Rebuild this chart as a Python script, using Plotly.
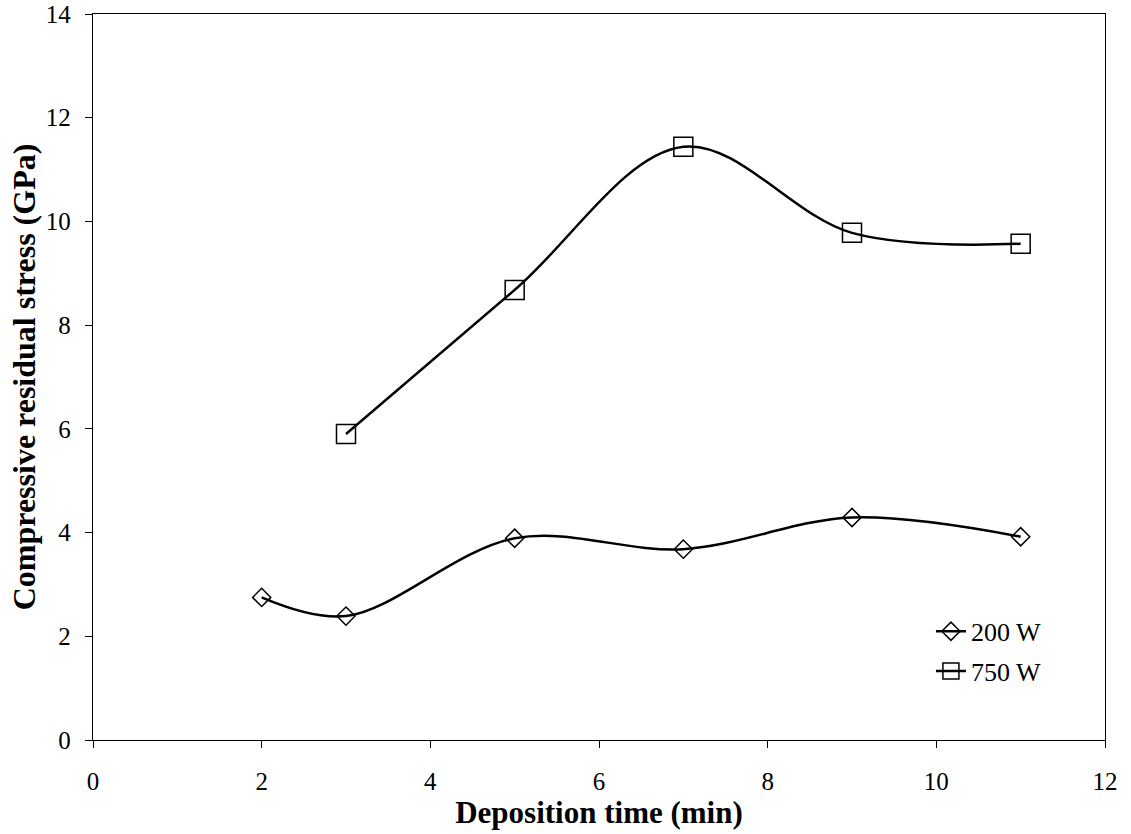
import plotly.graph_objects as go

time_min = [2, 3, 5, 7, 9, 11]
stress_200w = [2.75, 2.39, 3.89, 3.68, 4.29, 3.92]

time_750 = [3, 5, 7, 9, 11]
stress_750w = [5.90, 8.68, 11.44, 9.78, 9.57]

FONT = "Liberation Serif, Times New Roman, serif"

fig = go.Figure()
fig.add_trace(go.Scatter(
    x=time_min, y=stress_200w, name="200 W", mode="lines+markers", legendgroup="a",
    line=dict(color="black", width=2.5, shape="spline", smoothing=1),
    marker=dict(symbol="diamond-open", size=14, color="black", line=dict(width=1.5)),
))
fig.add_trace(go.Scatter(
    x=time_750, y=stress_750w, name="750 W", mode="lines+markers", legendgroup="b",
    line=dict(color="black", width=2.5, shape="spline", smoothing=1),
    marker=dict(symbol="square-open", size=19, color="black", line=dict(width=1.5)),
))

axis_common = dict(
    showline=True, linecolor="black", linewidth=1.3, mirror=True,
    ticks="outside", ticklen=7, tickcolor="black", tickwidth=1,
    showgrid=False, zeroline=False, automargin=False,
    tickfont=dict(family=FONT, size=25, color="black"),
)

fig.update_layout(
    width=1131, height=834,
    margin=dict(l=93, r=26, t=14, b=94),
    paper_bgcolor="white", plot_bgcolor="white",
    font=dict(family=FONT, color="black"),
    xaxis=dict(range=[0, 12], dtick=2, ticklabelstandoff=12,
               title=dict(text="<b>Deposition time (min)</b>", font=dict(family=FONT, size=31), standoff=1),
               **axis_common),
    yaxis=dict(range=[0, 14], dtick=2, ticklabelstandoff=9,
               title=dict(text="<b>Compressive residual stress (GPa)</b>", font=dict(family=FONT, size=32), standoff=0),
               **axis_common),
    legend=dict(x=0.828, y=0.182, xanchor="left", yanchor="top",
                bgcolor="rgba(0,0,0,0)", font=dict(family=FONT, size=26),
                itemsizing="trace", tracegroupgap=3),
    showlegend=True,
)

fig.write_html("out.html")
